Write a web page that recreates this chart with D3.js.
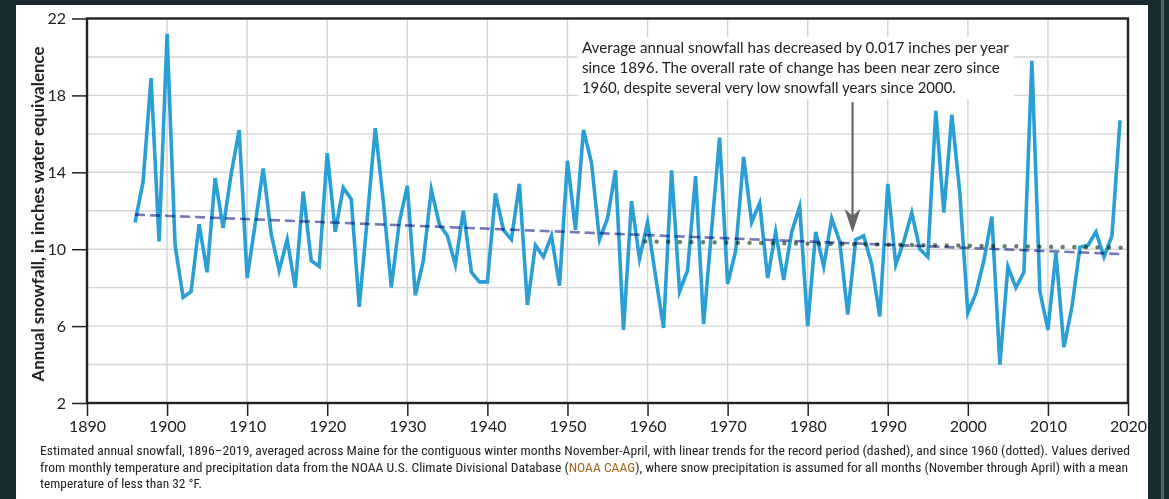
<!DOCTYPE html>
<html>
<head>
<meta charset="utf-8">
<script src="https://cdn.jsdelivr.net/npm/d3@7"></script>
<style>
  body { margin: 0; background: #1a2a31; }
  svg { display: block; }
  .tick text { font-family: Lato, "Open Sans", sans-serif; fill: #222; }
</style>
</head>
<body>
<div id="chart-area"></div>
<script>
// annual snowfall (inches water equivalence), Maine, 1896-2019
var firstYear = 1896;
var snowfall = [
  11.4, 13.5, 18.9, 10.4,
  21.2, 10.2, 7.5, 7.8, 11.3, 8.8, 13.7, 11.1, 13.9, 16.2,
  8.5, 11.3, 14.2, 10.8, 8.9, 10.5, 8.0, 13.0, 9.4, 9.1,
  15.0, 10.9, 13.2, 12.6, 7.0, 11.6, 16.3, 12.5, 8.0, 11.4,
  13.3, 7.6, 9.4, 13.1, 11.3, 10.7, 9.2, 12.0, 8.8, 8.3,
  8.3, 12.9, 11.0, 10.5, 13.4, 7.1, 10.2, 9.6, 10.7, 8.1,
  14.6, 11.0, 16.2, 14.5, 10.5, 11.6, 14.1, 5.8, 12.5, 9.5,
  11.4, 8.6, 5.9, 14.1, 7.8, 8.9, 13.8, 6.1, 11.0, 15.8,
  8.2, 9.9, 14.8, 11.4, 12.4, 8.5, 10.9, 8.4, 10.9, 12.2,
  6.0, 10.9, 9.1, 11.6, 10.4, 6.6, 10.5, 10.7, 9.2, 6.5,
  13.4, 9.2, 10.4, 11.9, 10.0, 9.6, 17.2, 11.9, 17.0, 12.9,
  6.7, 7.7, 9.4, 11.7, 4.0, 9.1, 8.0, 8.8, 19.8, 7.8,
  5.8, 9.8, 4.9, 7.0, 10.1, 10.2, 10.9, 9.6, 10.7, 16.7
];

// linear trends
var trendRecord = [[1896, 11.8], [2019, 9.75]];   // dashed
var trend1960 = [[1959.7, 10.4], [2019.3, 10.08]]; // dotted

var xTicks = [1890, 1900, 1910, 1920, 1930, 1940, 1950, 1960, 1970, 1980, 1990, 2000, 2010, 2020];
var yTicks = [2, 6, 10, 14, 18, 22];
var yGrid = [4, 6, 8, 10, 12, 14, 16, 18, 20];

var noteLines = [
  "Average annual snowfall has decreased by 0.017 inches per year",
  "since 1896. The overall rate of change has been near zero since",
  "1960, despite several very low snowfall years since 2000."
];
var captionLines = [
  "Estimated annual snowfall, 1896\u20132019, averaged across Maine for the contiguous winter months November-April, with linear trends for the record period (dashed), and since 1960 (dotted). Values derived",
  ["from monthly temperature and precipitation data from the NOAA U.S. Climate Divisional Database (", "NOAA CAAG", "), where snow precipitation is assumed for all months (November through April) with a mean"],
  "temperature of less than 32 \u00b0F."
];

var data = snowfall.map(function (v, i) { return { year: firstYear + i, value: v }; });

var W = 1169, H = 499;
var svg = d3.select("#chart-area").append("svg")
    .attr("width", W)
    .attr("height", H);

// dark backdrop + white panel
svg.append("rect").attr("width", W).attr("height", H).attr("fill", "#1a2a31");
svg.append("rect").attr("x", 1161).attr("y", 0).attr("width", 3).attr("height", H).attr("fill", "#56646a");
svg.append("rect").attr("x", 16).attr("y", 5).attr("width", 1132).attr("height", H - 5).attr("fill", "#fff");

var x = d3.scaleLinear().domain([1890, 2020]).range([87, 1128]);
var y = d3.scaleLinear().domain([2, 22]).range([403, 18.5]);

var g = svg.append("g");

// grid
g.selectAll(".vgrid")
  .data(xTicks.slice(1, -1))
  .enter().append("line")
    .attr("x1", d => x(d)).attr("x2", d => x(d))
    .attr("y1", y(22)).attr("y2", y(2))
    .attr("stroke", "#d4d4d4").attr("stroke-width", 1.4);

g.selectAll(".hgrid")
  .data(yGrid)
  .enter().append("line")
    .attr("x1", x(1890)).attr("x2", x(2020))
    .attr("y1", d => y(d)).attr("y2", d => y(d))
    .attr("stroke", "#d4d4d4").attr("stroke-width", 1.4);

// note box (covers grid)
var noteX = x(1951.8);
g.append("rect")
  .attr("x", noteX - 4).attr("y", 37)
  .attr("width", 436).attr("height", 62)
  .attr("fill", "#fff");

var noteWidths = [427, 418, 374];
g.selectAll(".note")
  .data(noteLines)
  .enter().append("text")
    .attr("x", noteX)
    .attr("y", (d, i) => 53 + i * 20)
    .attr("textLength", (d, i) => noteWidths[i])
    .attr("lengthAdjust", "spacingAndGlyphs")
    .style("font-family", "Lato, 'Open Sans', sans-serif")
    .style("font-size", "16px")
    .attr("fill", "#222")
    .text(d => d);

// arrow
var arrowX = x(1985.6);
g.append("line")
  .attr("x1", arrowX).attr("x2", arrowX)
  .attr("y1", y(17.65)).attr("y2", y(11.3))
  .attr("stroke", "#666").attr("stroke-width", 2.2);
g.append("path")
  .attr("transform", "translate(" + arrowX + "," + y(10.85) + ")")
  .attr("d", "M0,0 L-8,-24 L0,-17 L8,-24 Z")
  .attr("fill", "#666");

// snowfall line
var line = d3.line()
  .x(d => x(d.year))
  .y(d => y(d.value));

g.append("path")
  .datum(data)
  .attr("d", line)
  .attr("fill", "none")
  .attr("stroke", "#2a9fd6")
  .attr("stroke-width", 3.6)
  .attr("stroke-linejoin", "miter")
  .attr("stroke-miterlimit", 6);

// trends
var trendLine = d3.line().x(d => x(d[0])).y(d => y(d[1]));
g.append("path")
  .attr("d", trendLine(trendRecord))
  .attr("fill", "none")
  .attr("stroke", "#5f5fb0")
  .attr("stroke-opacity", 0.85)
  .attr("stroke-width", 2.6)
  .attr("stroke-dasharray", "10,5")
  .style("mix-blend-mode", "multiply");

g.append("path")
  .attr("d", trendLine(trend1960))
  .attr("fill", "none")
  .attr("stroke", "#6a826a")
  .attr("stroke-width", 4.4)
  .attr("stroke-linecap", "round")
  .attr("stroke-dasharray", "0,11.6")
  .style("mix-blend-mode", "multiply");

// frame
g.append("rect")
  .attr("x", x(1890)).attr("y", y(22))
  .attr("width", x(2020) - x(1890)).attr("height", y(2) - y(22))
  .attr("fill", "none")
  .attr("stroke", "#222")
  .attr("stroke-width", 2.4);

// axes
var xAxis = d3.axisBottom(x)
  .tickValues(xTicks)
  .tickFormat(d3.format("d"))
  .tickSize(13)
  .tickPadding(5);
var yAxis = d3.axisLeft(y)
  .tickValues(yTicks)
  .tickSize(15)
  .tickPadding(6);

var gx = g.append("g")
  .attr("class", "x-axis")
  .attr("transform", "translate(0," + y(2) + ")")
  .call(xAxis);
var gy = g.append("g")
  .attr("class", "y-axis")
  .attr("transform", "translate(" + x(1890) + ",0)")
  .call(yAxis);

[gx, gy].forEach(function (a) {
  a.select(".domain").remove();
  a.selectAll(".tick line").attr("stroke", "#222").attr("stroke-width", 1.5);
  a.selectAll(".tick text").style("font-size", "16px").attr("fill", "#222");
});

// y title
g.append("text")
  .attr("transform", "translate(44," + 214 + ") rotate(-90)")
  .attr("text-anchor", "middle")
  .attr("textLength", 335)
  .attr("lengthAdjust", "spacingAndGlyphs")
  .style("font-family", "Lato, 'Open Sans', sans-serif")
  .style("font-weight", "bold")
  .style("font-size", "17px")
  .attr("fill", "#222")
  .text("Annual snowfall, in inches water equivalence");

// caption
var capWidths = [1090, 1088, 162];
captionLines.forEach(function (ln, i) {
  var t = svg.append("text")
    .attr("x", 40)
    .attr("y", 455 + i * 16.5)
    .attr("textLength", capWidths[i])
    .attr("lengthAdjust", "spacingAndGlyphs")
    .style("font-family", "'Liberation Sans Narrow', 'Roboto Condensed', Roboto, sans-serif")
    .style("font-size", "13.5px")
    .attr("fill", "#222");
  if (Array.isArray(ln)) {
    t.append("tspan").text(ln[0]);
    t.append("tspan").attr("fill", "#a5641f").text(ln[1]);
    t.append("tspan").text(ln[2]);
  } else {
    t.text(ln);
  }
});
</script>
</body>
</html>
